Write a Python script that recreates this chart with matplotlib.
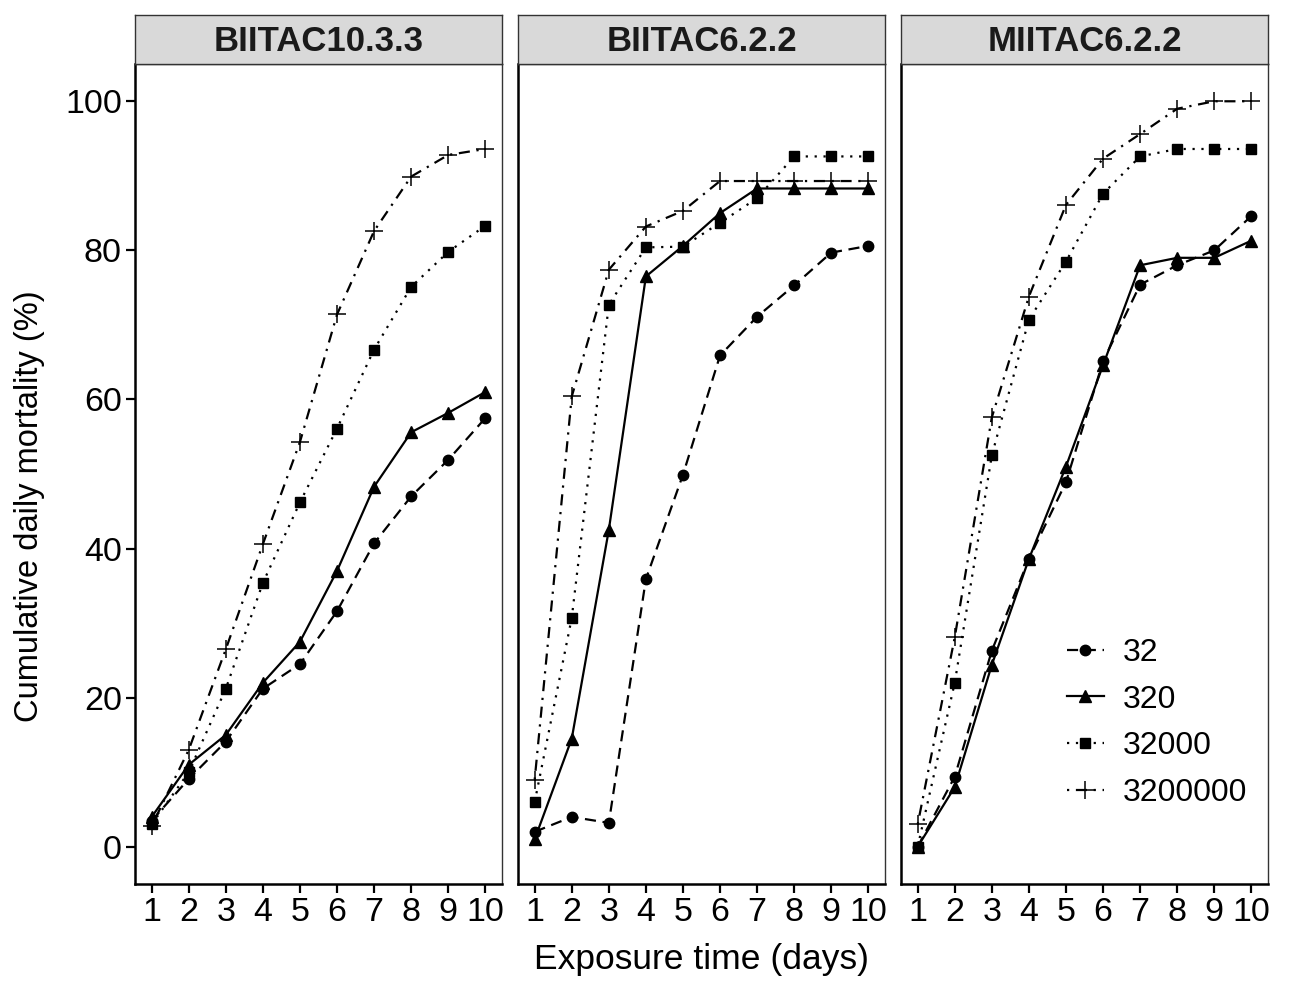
import matplotlib
matplotlib.use("Agg")
import matplotlib.pyplot as plt

plt.rcParams['font.family'] = ['Liberation Sans', 'DejaVu Sans']

# --- data ---
days = [1, 2, 3, 4, 5, 6, 7, 8, 9, 10]
panels = ["BIITAC10.3.3", "BIITAC6.2.2", "MIITAC6.2.2"]
doses = ["32", "320", "32000", "3200000"]

biitac1033 = {
    "32":      [3.5, 9.1, 14.1, 21.2, 24.5, 31.6, 40.7, 47.0, 51.9, 57.5],
    "320":     [4.0, 11.0, 15.0, 22.0, 27.5, 37.0, 48.3, 55.6, 58.2, 61.0],
    "32000":   [3.0, 10.0, 21.2, 35.4, 46.2, 56.1, 66.7, 75.1, 79.8, 83.3],
    "3200000": [2.8, 13.0, 26.5, 40.6, 54.3, 71.4, 82.6, 89.9, 92.8, 93.6],
}
biitac622 = {
    "32":      [2.0, 4.0, 3.2, 35.9, 49.9, 65.9, 71.1, 75.3, 79.7, 80.6],
    "320":     [1.0, 14.5, 42.5, 76.5, 80.6, 85.0, 88.3, 88.3, 88.3, 88.3],
    "32000":   [6.0, 30.7, 72.7, 80.4, 80.5, 83.7, 87.0, 92.6, 92.6, 92.6],
    "3200000": [9.0, 60.4, 77.4, 83.2, 85.3, 89.3, 89.3, 89.3, 89.3, 89.3],
}
miitac622 = {
    "32":      [0.0, 9.4, 26.3, 38.6, 48.9, 65.1, 75.4, 78.0, 80.0, 84.6],
    "320":     [0.0, 8.0, 24.4, 38.6, 51.0, 64.6, 78.0, 79.0, 79.0, 81.3],
    "32000":   [0.0, 22.0, 52.5, 70.7, 78.5, 87.6, 92.6, 93.6, 93.6, 93.6],
    "3200000": [3.0, 28.1, 57.6, 73.8, 86.1, 92.3, 95.6, 99.0, 100.0, 100.0],
}
panel_data = [biitac1033, biitac622, miitac622]

# style per dose
styles = {
    "32":      dict(linestyle=(0, (5, 3)), marker="o", markersize=7.5),
    "320":     dict(linestyle="-", marker="^", markersize=8.5),
    "32000":   dict(linestyle=(0, (1, 3)), marker="s", markersize=7.5),
    "3200000": dict(linestyle=(0, (1, 3, 5, 3)), marker="+", markersize=13, markeredgewidth=1.1),
}

fig = plt.figure(figsize=(12.91, 9.81), dpi=100)
W, H = 1291, 981
lefts = [135, 518, 901]
pw = 367
top_px, strip_px, bottom_px = 15, 64, 884

for i, (name, data) in enumerate(zip(panels, panel_data)):
    ax = fig.add_axes([lefts[i] / W, (H - bottom_px) / H, pw / W, (bottom_px - strip_px) / H])
    for d in doses:
        ax.plot(days, data[d], color="black", linewidth=1.6, label=d, **styles[d])
    ax.set_xlim(0.55, 10.45)
    ax.set_ylim(-5, 105)
    ax.set_xticks(days)
    ax.set_yticks([0, 20, 40, 60, 80, 100])
    ax.tick_params(axis="both", direction="out", length=6.5, width=1.6, labelsize=24.5,
                   colors="black", pad=3)
    for side in ["top", "right"]:
        ax.spines[side].set_color("#333333")
        ax.spines[side].set_linewidth(1.0)
    for side in ["left", "bottom"]:
        ax.spines[side].set_color("black")
        ax.spines[side].set_linewidth(1.8)
    if i > 0:
        ax.tick_params(axis="y", left=False, labelleft=False)
    if i == 2:
        ax.legend(loc="upper left", bbox_to_anchor=(1051 / W, 1 - 622 / H),
                  bbox_transform=fig.transFigure, frameon=False, fontsize=23,
                  handlelength=1.15, handletextpad=0.6, labelspacing=0.52, borderpad=0)

    # strip on top of the panel
    sax = fig.add_axes([lefts[i] / W, (H - strip_px) / H, pw / W, (strip_px - top_px) / H])
    sax.set_facecolor("#D9D9D9")
    sax.set_xticks([])
    sax.set_yticks([])
    for sp in sax.spines.values():
        sp.set_color("#333333")
        sp.set_linewidth(1.0)
    sax.text(0.5, 0.46, name, ha="center", va="center", fontsize=25, fontweight="bold",
             color="#1a1a1a", transform=sax.transAxes)

fig.text(702 / W, 1 - 960 / H, "Exposure time (days)", ha="center", va="center", fontsize=25.5)
fig.text(30 / W, 1 - 506 / H, "Cumulative daily mortality (%)", ha="center", va="center",
         fontsize=23.5, rotation=90)

fig.savefig("out.png", dpi=100)
